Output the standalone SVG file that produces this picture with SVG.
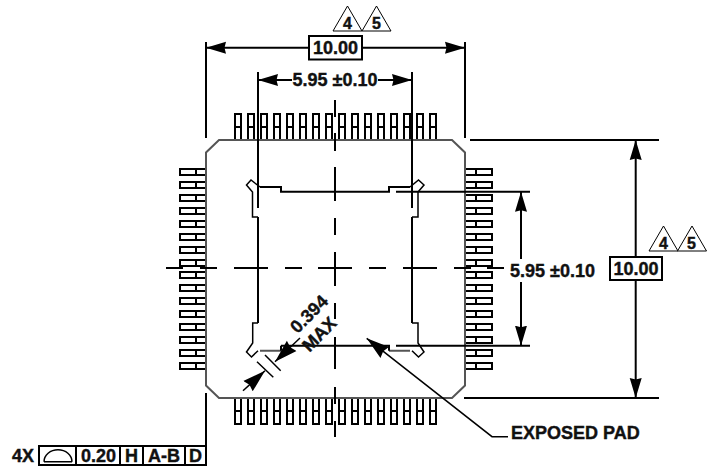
<svg xmlns="http://www.w3.org/2000/svg" width="713" height="472" viewBox="0 0 713 472">
<style>
text{font-family:"Liberation Sans",Arial,sans-serif;font-weight:bold;font-size:18px;fill:#111;stroke:#111;stroke-width:.4}
.m{text-anchor:middle}
.l{fill:none;stroke:#000;stroke-width:2}
.t{fill:none;stroke:#000;stroke-width:1.500}
.g{fill:none;stroke:#555;stroke-width:2}
.lead{fill:none;stroke:#000;stroke-width:2}
</style>
<defs>
<marker id="a" markerUnits="userSpaceOnUse" markerWidth="21" markerHeight="13" refX="20" refY="6.500" orient="auto"><path d="M0 0.500L20 6.500L0 12.500L1.500 6.500Z" fill="#000"/></marker>
<marker id="b" markerUnits="userSpaceOnUse" markerWidth="24" markerHeight="16" refX="23" refY="8" orient="auto"><path d="M0 1L23 8L0 15L2 8Z" fill="#000"/></marker>
<path id="vl" d="M0 26V0H6V26M0 13H6" class="lead"/>
<path id="hl" d="M26 0H0V6H26M16 0V6" class="lead"/>
<path id="tri" d="M0 25L14.500 0L29 25Z" fill="#fff" stroke="#000" stroke-width="1"/>
</defs>
<g id="leads-top">
<use href="#vl" x="235" y="114"/><use href="#vl" x="248" y="114"/><use href="#vl" x="261" y="114"/><use href="#vl" x="274" y="114"/><use href="#vl" x="287" y="114"/><use href="#vl" x="300" y="114"/><use href="#vl" x="313" y="114"/><use href="#vl" x="326" y="114"/><use href="#vl" x="339" y="114"/><use href="#vl" x="352" y="114"/><use href="#vl" x="365" y="114"/><use href="#vl" x="378" y="114"/><use href="#vl" x="391" y="114"/><use href="#vl" x="404" y="114"/><use href="#vl" x="417" y="114"/><use href="#vl" x="430" y="114"/>
</g>
<g id="leads-bottom" transform="translate(0 822) scale(1 -1)">
<use href="#vl" x="235" y="398"/><use href="#vl" x="248" y="398"/><use href="#vl" x="261" y="398"/><use href="#vl" x="274" y="398"/><use href="#vl" x="287" y="398"/><use href="#vl" x="300" y="398"/><use href="#vl" x="313" y="398"/><use href="#vl" x="326" y="398"/><use href="#vl" x="339" y="398"/><use href="#vl" x="352" y="398"/><use href="#vl" x="365" y="398"/><use href="#vl" x="378" y="398"/><use href="#vl" x="391" y="398"/><use href="#vl" x="404" y="398"/><use href="#vl" x="417" y="398"/><use href="#vl" x="430" y="398"/>
</g>
<g id="leads-left">
<use href="#hl" x="180" y="169"/><use href="#hl" x="180" y="182"/><use href="#hl" x="180" y="195"/><use href="#hl" x="180" y="208"/><use href="#hl" x="180" y="221"/><use href="#hl" x="180" y="234"/><use href="#hl" x="180" y="247"/><use href="#hl" x="180" y="260"/><use href="#hl" x="180" y="272"/><use href="#hl" x="180" y="285"/><use href="#hl" x="180" y="298"/><use href="#hl" x="180" y="311"/><use href="#hl" x="180" y="324"/><use href="#hl" x="180" y="337"/><use href="#hl" x="180" y="350"/><use href="#hl" x="180" y="363"/>
</g>
<g id="leads-right" transform="scale(-1 1)">
<use href="#hl" x="-492" y="169"/><use href="#hl" x="-492" y="182"/><use href="#hl" x="-492" y="195"/><use href="#hl" x="-492" y="208"/><use href="#hl" x="-492" y="221"/><use href="#hl" x="-492" y="234"/><use href="#hl" x="-492" y="247"/><use href="#hl" x="-492" y="260"/><use href="#hl" x="-492" y="272"/><use href="#hl" x="-492" y="285"/><use href="#hl" x="-492" y="298"/><use href="#hl" x="-492" y="311"/><use href="#hl" x="-492" y="324"/><use href="#hl" x="-492" y="337"/><use href="#hl" x="-492" y="350"/><use href="#hl" x="-492" y="363"/>
</g>
<g id="body"><path d="M219 140H452L465 152.500V385.500L452 398H219L206 385.500V152.500Z" fill="none" stroke="#555" stroke-width="2"/></g>
<g id="pad">
<path class="l" d="M260 187H281V191.700H389V187H410"/>
<path class="t" d="M260 187L251 180L246.500 185L252.500 192V217H258M410 187L418.500 180L424 185L418 192V217H412M258 350.700L251.500 357L246.500 352L252.700 343V323H258M412 350.700L418.500 357L424 352L418 343V323H412"/>
<path class="g" d="M260 350.700H281M389 350.700H410"/>
<path class="l" d="M281 345.700V350.700M389 345.700V350.700M258 217V323M412 217V323"/>
</g>
<g id="connectors">
<path class="l" d="M206 42V138M465 42V138M206 393V465M258 72V208M412 72V208M470 140H659M464 398H659M396 191.700H530M396 345.700H530M281 345.700H390"/>
<path class="l" d="M309 47.700H206" marker-end="url(#a)"/>
<path class="l" d="M362 47.700H465" marker-end="url(#a)"/>
<path class="l" d="M292 80H258" marker-end="url(#a)"/>
<path class="l" d="M378 80H412" marker-end="url(#a)"/>
<path class="l" d="M521 259V191.700" marker-end="url(#a)"/>
<path class="l" d="M521 282V345.700" marker-end="url(#a)"/>
<path class="l" d="M635.700 257V140" marker-end="url(#a)"/>
<path class="l" d="M635.700 280V398" marker-end="url(#a)"/>
<path class="t" d="M257 361.700L273.300 377.300M265 355L280.700 370.700"/>
<path class="t" d="M300 338L275 361.700" marker-end="url(#b)"/>
<path class="t" d="M243 390.700L265 370.700" marker-end="url(#b)"/>
<path class="t" d="M508 436.700H492L366.700 338.300" marker-end="url(#b)"/>
<path class="l" id="centerlines" d="M335 100V117M335 133V151M335 167V201M335 218V235M335 252V286M335 303V319M335 337V369M335 387V404M335 421V437M166 268H183M200 268H217M234 268H268M285 268H302M318 268H352M369 268H386M403 268H437M454 268H471M487 268H504"/>
</g>
<g id="dim-top">
<rect x="309" y="36" width="53" height="23.500" fill="#fff" stroke="#000" stroke-width="2"/>
<text class="m" x="335.500" y="54">10.00</text>
<use href="#tri" x="333" y="6"/><use href="#tri" x="362" y="6"/>
<text class="m" x="347.500" y="29" style="font-size:16px">4</text>
<text class="m" x="376.500" y="29" style="font-size:16px">5</text>
<text class="m" x="335" y="86">5.95 ±0.10</text>
</g>
<g id="dim-right">
<text x="510" y="277">5.95 ±0.10</text>
<rect x="610" y="257" width="52" height="23" fill="#fff" stroke="#000" stroke-width="2"/>
<text class="m" x="636" y="275">10.00</text>
<use href="#tri" x="649" y="226"/><use href="#tri" x="677.500" y="226"/>
<text class="m" x="663.500" y="249" style="font-size:16px">4</text>
<text class="m" x="691.500" y="249" style="font-size:16px">5</text>
</g>
<g id="dim-diagonal">
<text class="m" transform="translate(302 334) rotate(-45)" x="19" y="-3">0.394</text>
<text class="m" transform="translate(318 347) rotate(-45)" x="10" y="-2">MAX</text>
</g>
<g id="exposed"><text x="511" y="439">EXPOSED PAD</text></g>
<g id="fcf">
<rect x="39" y="446" width="167" height="19" fill="#fff" stroke="#000" stroke-width="2"/>
<path class="l" d="M76 446V465M120 446V465M143 446V465M185 446V465"/>
<path class="t" d="M44 461.700H72M44 461.700A14 12 0 0 1 72 461.700"/>
<text x="12" y="462">4X</text>
<text x="81" y="462">0.20</text>
<text class="m" x="131.500" y="462">H</text>
<text class="m" x="164" y="462">A-B</text>
<text class="m" x="195.500" y="462">D</text>
</g>
</svg>
